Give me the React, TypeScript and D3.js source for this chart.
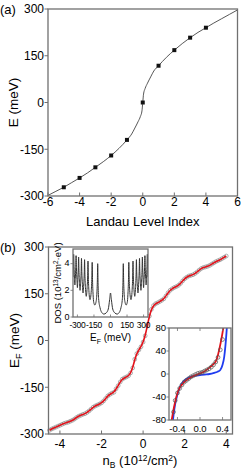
import React from "react";
import * as d3 from "d3";

const FONT = "'Liberation Sans', Arial, Helvetica, sans-serif";
const GREY = "#707070";

// (a) Landau level energies
const levelIndex = [-5, -4, -3, -2, -1, 0, 1, 2, 3, 4];
const levelEnergy = [-272, -242, -208, -170, -120, 0, 118, 168, 208, 240];
const curveIndex = [-6, -5.5, -5, -4.5, -4, -3.5, -3, -2.5, -2, -1.5, -1, -0.7, -0.5, -0.3, -0.15, -0.05, 0, 0.05, 0.15, 0.3, 0.5, 0.7, 1, 1.5, 2, 2.5, 3, 3.5, 4, 4.5, 5, 5.5, 6];
const curveEnergy = [-298, -285, -272, -257, -242, -226, -208, -190, -170, -147, -120, -101, -82, -62, -45, -27, 0, 27, 45, 62, 82, 101, 118, 145, 168, 189, 208, 225, 240, 255, 269, 283, 297];
const indexTicks = [-6, -4, -2, 0, 2, 4, 6];
const energyTicks = [-300, -150, 0, 150, 300];

// (b) Fermi energy vs density
const densityB = [
  -4.5, -4.4, -4.3, -4.2, -4.1, -4.0, -3.9, -3.8, -3.7, -3.6, -3.5, -3.4, -3.3, -3.2, -3.1,
  -3.0, -2.9, -2.8, -2.7, -2.6, -2.5, -2.4, -2.3, -2.2, -2.1, -2.0, -1.9, -1.8, -1.7, -1.6,
  -1.5, -1.4, -1.3, -1.2, -1.1, -1.0, -0.9, -0.8, -0.7, -0.6, -0.5, -0.4, -0.3, -0.2, -0.1,
  0.0, 0.1, 0.2, 0.3, 0.4, 0.5, 0.6, 0.7, 0.8, 0.9, 1.0, 1.1, 1.2, 1.3, 1.4, 1.5, 1.6, 1.7,
  1.8, 1.9, 2.0, 2.1, 2.2, 2.3, 2.4, 2.5, 2.6, 2.7, 2.8, 2.9, 3.0, 3.1, 3.2, 3.3, 3.4, 3.5,
  3.6, 3.7, 3.8, 3.9, 4.0,
];
const fermiEnergy = [
  -288, -284, -281, -278, -275, -272, -269, -266, -264, -262, -259, -256, -252, -247, -243,
  -240, -237, -235, -231, -226, -220, -214, -210, -207, -204, -200, -194, -186, -178, -173,
  -169, -166, -155, -145, -133, -124, -120, -117, -113, -104, -88, -60, -42, -30, -20,
  -5, 15, 46, 78, 100, 112, 118, 121, 125, 129, 134, 143, 153, 161, 166, 170, 173, 177,
  183, 191, 198, 203, 207, 209, 211, 215, 220, 226, 231, 234, 236, 238, 241, 245, 249, 253,
  256, 259, 263, 267, 271,
];
const densityTicks = [-4, -2, 0, 2, 4];

// inset: density of states
const dosEnergy = [
  -340, -337, -334, -331, -327, -323, -319, -315, -312, -309, -304, -300, -296, -292, -289,
  -286, -281, -276, -271, -266, -263, -260, -255, -249, -243, -238, -235, -232, -227, -220,
  -212, -207, -204, -201, -196, -186, -174, -169, -166, -163, -158, -152, -142, -132, -124,
  -119, -116, -113, -108, -95, -80, -60, -40, -20, -8, 0, 8, 20, 40, 60, 80, 95, 108, 113,
  116, 119, 124, 132, 142, 152, 158, 163, 166, 169, 174, 186, 196, 201, 204, 207, 212, 220,
  227, 232, 235, 238, 243, 249, 255, 260, 263, 266, 271, 276, 281, 286, 289, 292, 296, 300,
  304, 309, 312, 315, 319, 323, 327, 331, 334, 337, 340,
];
const dosValue = [
  3.0, 3.9, 4.7, 3.8, 3.0, 2.4, 2.9, 3.7, 4.6, 3.7, 2.8, 2.2, 2.8, 3.6, 4.5,
  3.5, 2.6, 2.0, 2.6, 3.4, 4.4, 3.4, 2.45, 1.8, 2.4, 3.3, 4.3, 3.2, 2.2, 1.55,
  2.2, 3.1, 4.2, 3.0, 2.0, 1.3, 2.0, 3.0, 4.1, 2.8, 1.7, 1.1, 0.9, 1.1, 1.7,
  2.8, 4.0, 2.6, 1.4, 0.7, 0.35, 0.22, 0.3, 0.6, 1.3, 1.8, 1.3, 0.6, 0.3, 0.22, 0.35, 0.7, 1.4, 2.6,
  4.0, 2.8, 1.7, 1.1, 0.9, 1.1, 1.7, 2.8, 4.1, 3.0, 2.0, 1.3, 2.0, 3.0, 4.2, 3.1, 2.2, 1.55,
  2.2, 3.2, 4.3, 3.3, 2.4, 1.8, 2.45, 3.4, 4.4, 3.4, 2.6, 2.0, 2.6, 3.5, 4.5, 3.6, 2.8, 2.2,
  2.8, 3.7, 4.6, 3.7, 2.9, 2.4, 3.0, 3.8, 4.7, 3.9, 3.0,
];
const dosTicksX = [-300, -150, 0, 150, 300];
const dosTicksY = [0, 2, 4];

// inset: zoom around charge neutrality
const zoomDensity = [-0.47, -0.44, -0.4, -0.36, -0.32, -0.28, -0.24, -0.2, -0.16, -0.12, -0.08, -0.04, 0, 0.04, 0.08, 0.12, 0.16, 0.2, 0.24, 0.28, 0.32, 0.36, 0.4];
const zoomEnergy = [-66, -46, -33, -25, -19, -14, -11, -8, -5, -3, -1, 1, 2, 3, 5, 7, 9, 12, 16, 21, 29, 42, 60];
const redDensity = [-0.53, -0.5, -0.47, -0.44, -0.4, -0.35, -0.29, -0.23, -0.15, -0.08, 0, 0.07, 0.13, 0.19, 0.24, 0.28, 0.31, 0.34, 0.37, 0.4, 0.43];
const redEnergy = [-100, -79, -62, -48, -33, -22, -15, -10, -5, -2, 1, 4, 8, 13, 17, 22, 30, 42, 56, 72, 92];
const blueDensity = [-0.5, -0.47, -0.44, -0.41, -0.37, -0.32, -0.25, -0.17, -0.08, 0, 0.08, 0.17, 0.25, 0.31, 0.36, 0.4, 0.43, 0.45, 0.47, 0.49];
const blueEnergy = [-100, -72, -52, -39, -26, -16, -9, -5, -3, -2, -1, 0, 2, 4, 7, 16, 30, 48, 72, 100];
const zoomTicksX = [-0.4, 0, 0.4];
const zoomTicksY = [-80, -40, 0, 40, 80];

function Frame({ x, y }: { x: any; y: any }) {
  const [x0, x1] = x.range();
  const [y0, y1] = y.range();
  return (
    <rect x={x0} y={y1} width={x1 - x0} height={y0 - y1} fill="none" stroke={GREY} strokeWidth={1.3} />
  );
}

export default function App() {
  // panel (a)
  const ax = d3.scaleLinear().domain([-6, 6]).range([48, 237.5]);
  const ay = d3.scaleLinear().domain([-300, 300]).range([196, 9]);
  const aLine = d3
    .line<number>()
    .x((d, i) => ax(curveIndex[i]))
    .y((d) => ay(d))
    .curve(d3.curveMonotoneX);

  // panel (b)
  const bx = d3.scaleLinear().domain([-4.55, 4.3]).range([48.5, 232.5]);
  const by = d3.scaleLinear().domain([-300, 300]).range([434, 247]);
  const bLine = d3
    .line<number>()
    .x((d, i) => bx(densityB[i]))
    .y((d) => by(d))
    .curve(d3.curveBasis);

  // DOS inset
  const dx = d3.scaleLinear().domain([-340, 340]).range([73, 148]);
  const dy = d3.scaleLinear().domain([0, 5.1]).range([317, 249]);
  const dosLine = d3
    .line<number>()
    .x((d, i) => dx(dosEnergy[i]))
    .y((d) => dy(d))
    .curve(d3.curveMonotoneX);

  // zoom inset
  const zx = d3.scaleLinear().domain([-0.55, 0.55]).range([169, 231]);
  const zy = d3.scaleLinear().domain([-80, 80]).range([420, 328]);
  const zLine = (xs: number[]) =>
    d3
      .line<number>()
      .x((d, i) => zx(xs[i]))
      .y((d) => zy(d))
      .curve(d3.curveMonotoneX);

  return (
    <svg
      width={241}
      height={472}
      style={{ position: "absolute", left: 0, top: 0, background: "#fff" }}
      fontFamily={FONT}
    >
      <defs>
        <clipPath id="clipA">
          <rect x={48} y={9} width={189.5} height={187} />
        </clipPath>
        <clipPath id="clipDos">
          <rect x={73} y={249} width={75} height={68} />
        </clipPath>
        <clipPath id="clipZoom">
          <rect x={169} y={328} width={62} height={92} />
        </clipPath>
      </defs>

      {/* ---------- (a) ---------- */}
      <text x={0} y={14} fontSize={13}>(a)</text>
      <path d={aLine(curveEnergy) || ""} fill="none" stroke="#444" strokeWidth={0.9} clipPath="url(#clipA)" />
      {levelEnergy.map((e, i) => (
        <rect key={i} x={ax(levelIndex[i]) - 2} y={ay(e) - 2} width={4} height={4} fill="#111" />
      ))}
      <Frame x={ax} y={ay} />
      {indexTicks.map((t) => (
        <g key={t}>
          <line x1={ax(t)} x2={ax(t)} y1={196} y2={192.5} stroke={GREY} strokeWidth={1} />
          <text x={ax(t)} y={206} fontSize={12} textAnchor="middle">{t}</text>
        </g>
      ))}
      {energyTicks.map((t) => (
        <g key={t}>
          <line x1={48} x2={44.5} y1={ay(t)} y2={ay(t)} stroke={GREY} strokeWidth={1} />
          <text x={44} y={ay(t) + 4.3} fontSize={12} textAnchor="end">{t}</text>
        </g>
      ))}
      <text x={142.7} y={226} fontSize={13} textAnchor="middle">Landau Level Index</text>
      <text transform={`translate(18,102.5) rotate(-90)`} fontSize={13.5} textAnchor="middle">E  (meV)</text>

      {/* ---------- (b) ---------- */}
      <text x={0} y={252} fontSize={13}>(b)</text>
      {fermiEnergy.map((e, i) => (
        <circle key={i} cx={bx(densityB[i])} cy={by(e)} r={1.9} fill="none" stroke="#8c8c8c" strokeWidth={0.7} />
      ))}
      <path d={bLine(fermiEnergy) || ""} fill="none" stroke="#e3121b" strokeWidth={1.6} />
      <Frame x={bx} y={by} />
      {densityTicks.map((t) => (
        <g key={t}>
          <line x1={bx(t)} x2={bx(t)} y1={434} y2={430.5} stroke={GREY} strokeWidth={1} />
          <text x={bx(t)} y={447.5} fontSize={12} textAnchor="middle">{t}</text>
        </g>
      ))}
      {energyTicks.map((t) => (
        <g key={t}>
          <line x1={48.5} x2={45} y1={by(t)} y2={by(t)} stroke={GREY} strokeWidth={1} />
          <text x={44} y={by(t) + 4.3} fontSize={12} textAnchor="end">{t}</text>
        </g>
      ))}
      <text x={140} y={465} fontSize={13} textAnchor="middle">
        n<tspan fontSize={8.5} dy={3}>B</tspan>
        <tspan dy={-3}> (10</tspan>
        <tspan fontSize={8.5} dy={-4.5}>12</tspan>
        <tspan dy={4.5}>/cm</tspan>
        <tspan fontSize={8.5} dy={-4.5}>2</tspan>
        <tspan dy={4.5}>)</tspan>
      </text>
      <text transform={`translate(19,340.5) rotate(-90)`} fontSize={13.5} textAnchor="middle">
        E<tspan fontSize={9} dy={3}>F</tspan>
        <tspan dy={-3}> (meV)</tspan>
      </text>

      {/* ---------- DOS inset ---------- */}
      <rect x={73} y={249} width={75} height={68} fill="#fff" />
      <path d={dosLine(dosValue) || ""} fill="none" stroke="#333" strokeWidth={1} clipPath="url(#clipDos)" />
      <Frame x={dx} y={dy} />
      {dosTicksX.map((t) => (
        <g key={t}>
          <line x1={dx(t)} x2={dx(t)} y1={317} y2={314.5} stroke={GREY} strokeWidth={0.8} />
          <text x={dx(t)} y={327.5} fontSize={8.5} letterSpacing={-0.25} textAnchor="middle">{t}</text>
        </g>
      ))}
      {dosTicksY.map((t) => (
        <g key={t}>
          <line x1={73} x2={70.5} y1={dy(t)} y2={dy(t)} stroke={GREY} strokeWidth={0.8} />
          <text x={69.5} y={dy(t) + 2.8} fontSize={9} textAnchor="end">{t}</text>
        </g>
      ))}
      <text x={110.5} y={341} fontSize={10} textAnchor="middle">
        E<tspan fontSize={7} dy={2.5}>F</tspan>
        <tspan dy={-2.5}> (meV)</tspan>
      </text>
      <text transform={`translate(61,283) rotate(-90)`} fontSize={9.5} textAnchor="middle">
        DOS (10<tspan fontSize={6.5} dy={-3.5}>13</tspan>
        <tspan dy={3.5}>/cm</tspan>
        <tspan fontSize={6.5} dy={-3.5}>2</tspan>
        <tspan dy={3.5}>·eV)</tspan>
      </text>

      {/* ---------- zoom inset ---------- */}
      <rect x={169} y={328} width={62} height={92} fill="#fff" />
      <g clipPath="url(#clipZoom)">
        <path d={zLine(blueDensity)(blueEnergy) || ""} fill="none" stroke="#1f3cf0" strokeWidth={1.8} />
        <path d={zLine(redDensity)(redEnergy) || ""} fill="none" stroke="#e3121b" strokeWidth={1.8} />
        {zoomEnergy.map((e, i) => (
          <circle key={i} cx={zx(zoomDensity[i])} cy={zy(e)} r={1.9} fill="none" stroke="#555" strokeWidth={0.7} />
        ))}
      </g>
      <Frame x={zx} y={zy} />
      {zoomTicksX.map((t) => (
        <g key={t}>
          <line x1={zx(t)} x2={zx(t)} y1={420} y2={417} stroke={GREY} strokeWidth={0.8} />
          <line x1={zx(t)} x2={zx(t)} y1={328} y2={331} stroke={GREY} strokeWidth={0.8} />
          <text x={zx(t)} y={431.5} fontSize={9.5} textAnchor="middle">{t.toFixed(1)}</text>
        </g>
      ))}
      {zoomTicksY.map((t) => (
        <g key={t}>
          <line x1={169} x2={166.5} y1={zy(t)} y2={zy(t)} stroke={GREY} strokeWidth={0.8} />
          <text x={166} y={zy(t) + 3.4} fontSize={9.5} textAnchor="end">{t}</text>
        </g>
      ))}
    </svg>
  );
}
